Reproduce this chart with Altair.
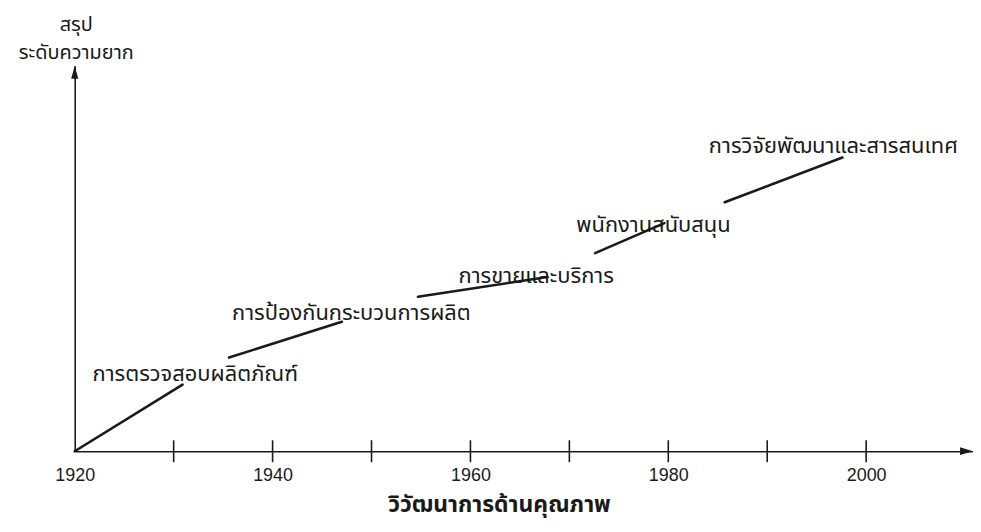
import altair as alt
import pandas as pd

# ---- data ----
tick_years = [1930, 1940, 1950, 1960, 1970, 1980, 1990, 2000]
label_years = [1920, 1940, 1960, 1980, 2000]

# each stage's line segment: start/end year and difficulty level
seg_start_year = [1920.0, 1935.6, 1954.7, 1972.6, 1985.7]
seg_end_year = [1930.9, 1947.0, 1967.8, 1979.6, 1997.6]
seg_start_level = [0.0, 24.3, 40.1, 51.4, 64.6]
seg_end_level = [17.3, 33.6, 45.2, 59.2, 76.2]

stage_names = [
    "การตรวจสอบผลิตภัณฑ์",
    "การป้องกันกระบวนการผลิต",
    "การขายและบริการ",
    "พนักงานสนับสนุน",
    "การวิจัยพัฒนาและสารสนเทศ",
]
stage_year = [1921.8, 1935.9, 1958.8, 1970.7, 1984.1]
stage_level = [18.3, 34.1, 43.7, 56.8, 77.5]

x_max = 2010.8
y_max = 100

W, H = 902, 387
THAI = "Noto Sans Thai, Tahoma, Noto Sans, sans-serif"
NUM = "Liberation Sans, Arial, sans-serif"
INK = "#1a1a1a"

segs = pd.DataFrame({
    "x": seg_start_year, "x2": seg_end_year,
    "y": seg_start_level, "y2": seg_end_level,
})
stages = pd.DataFrame({"name": stage_names, "year": stage_year, "level": stage_level})
ticks = pd.DataFrame({"year": tick_years})
x_arrow = pd.DataFrame({"year": [x_max], "level": [0]})
y_arrow = pd.DataFrame({"year": [1920], "level": [y_max]})

xscale = alt.Scale(domain=[1920, x_max], nice=False, zero=False)
yscale = alt.Scale(domain=[0, y_max], nice=False, zero=True)

xaxis = alt.Axis(
    values=label_years, format="d", ticks=False, grid=False, labelFlush=False,
    domain=True, domainColor=INK, domainWidth=1.6,
    labelFont=NUM, labelFontSize=18, labelColor=INK, labelPadding=15,
    title="วิวัฒนาการด้านคุณภาพ", titleFont=THAI, titleFontSize=23,
    titleFontWeight="bold", titleColor=INK, titleAlign="center",
    titleBaseline="alphabetic", titleX=426, titleY=61,
)
yaxis = alt.Axis(
    labels=False, ticks=False, grid=False,
    domain=True, domainColor=INK, domainWidth=1.6,
    title=["สรุป", "ระดับความยาก"], titleFont=THAI, titleFontSize=20,
    titleFontWeight="normal", titleColor=INK, titleAngle=0,
    titleAlign="center", titleBaseline="alphabetic",
    titleX=1, titleY=-35, titleLineHeight=28,
)

base_x = alt.X("x:Q", scale=xscale, axis=xaxis)
base_y = alt.Y("y:Q", scale=yscale, axis=yaxis)

lines = alt.Chart(segs).mark_rule(color=INK, strokeWidth=2.6, strokeCap="round").encode(
    x=base_x, x2="x2:Q", y=base_y, y2="y2:Q"
)

labels = alt.Chart(stages).mark_text(
    align="left", baseline="alphabetic", font=THAI, fontSize=22, color=INK
).encode(
    x=alt.X("year:Q", scale=xscale),
    y=alt.Y("level:Q", scale=yscale),
    text="name:N",
)

tick_marks = alt.Chart(ticks).mark_rule(color=INK, strokeWidth=1.6).encode(
    x=alt.X("year:Q", scale=xscale),
    y=alt.value(H - 11),
    y2=alt.value(H + 11),
)

arrow_x = alt.Chart(x_arrow).mark_point(
    shape="M0,0L-2,-0.6L-2,0.6Z", size=169, filled=True, color=INK, opacity=1, clip=False
).encode(x=alt.X("year:Q", scale=xscale), y=alt.Y("level:Q", scale=yscale))

arrow_y = alt.Chart(y_arrow).mark_point(
    shape="M0,0L-0.55,2L0.55,2Z", size=169, filled=True, color=INK, opacity=1, clip=False
).encode(x=alt.X("year:Q", scale=xscale), y=alt.Y("level:Q", scale=yscale))

chart = alt.layer(lines, labels, tick_marks, arrow_x, arrow_y).properties(
    width=W, height=H,
    autosize=alt.AutoSizeParams(type="none"),
    padding={"left": 67, "top": 57, "right": 0, "bottom": 72},
    background="white",
).configure_view(stroke=None)

chart.save("out.html", embed_options={"renderer": "svg", "actions": False})
